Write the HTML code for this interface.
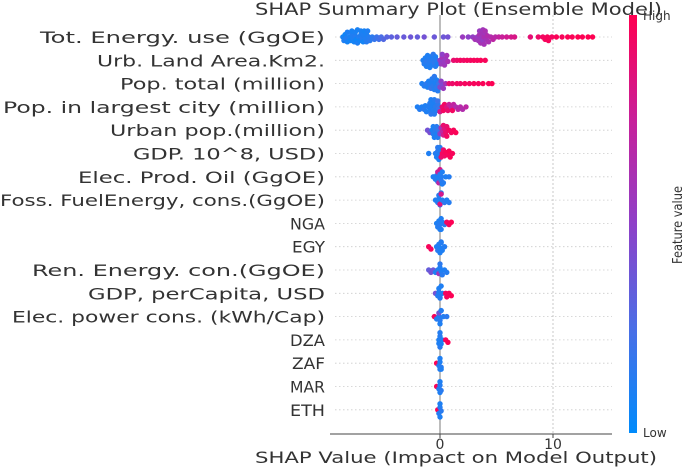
<!DOCTYPE html>
<html><head><meta charset="utf-8"><style>
html,body{margin:0;padding:0;background:#fff;}
svg{display:block;font-family:"DejaVu Sans","Liberation Sans",sans-serif;}
</style></head><body>
<svg id="chart" width="685" height="467" viewBox="0 0 685 467" xmlns="http://www.w3.org/2000/svg">
<defs>
<linearGradient id="cbar" x1="0" y1="1" x2="0" y2="0">
<stop offset="0" stop-color="#008bfb"/><stop offset="0.25" stop-color="#4a6ee6"/>
<stop offset="0.5" stop-color="#8e40c8"/><stop offset="0.75" stop-color="#c8209a"/>
<stop offset="1" stop-color="#ff0051"/>
</linearGradient>
</defs>
<text x="255" y="15" font-size="17" textLength="407" lengthAdjust="spacingAndGlyphs" fill="#333">SHAP Summary Plot (Ensemble Model)</text>
<g id="grid"></g>
<g id="labels"></g>
<g id="dots"></g>
<g id="axis"></g>
<rect x="629" y="15" width="8" height="418" fill="url(#cbar)"/>
<text x="643" y="20" font-size="12" fill="#333">High</text>
<text x="643" y="437" font-size="12" fill="#333">Low</text>
<text transform="translate(682,225) rotate(-90)" text-anchor="middle" font-size="13" textLength="78" lengthAdjust="spacingAndGlyphs" fill="#333">Feature value</text>
<text x="255" y="463" font-size="16" textLength="402" lengthAdjust="spacingAndGlyphs" fill="#333">SHAP Value (Impact on Model Output)</text>
</svg>
<script>
const featureNames = ["Tot. Energy. use (GgOE)","Urb. Land Area.Km2.","Pop. total (million)","Pop. in largest city (million)","Urban pop.(million)","GDP. 10^8, USD)","Elec. Prod. Oil (GgOE)","Foss. FuelEnergy, cons.(GgOE)","NGA","EGY","Ren. Energy. con.(GgOE)","GDP, perCapita, USD","Elec. power cons. (kWh/Cap)","DZA","ZAF","MAR","ETH"];
const labelStartX = [40,97,120,3,110,133,78,0,290,292,32,88,12,290,292,290,290];
const xTicks = [0, 10];
const shap_tot = [-8.6,-8.5,-8.4,-8.3,-8.2,-8.2,-8.0,-7.9,-7.8,-7.8,-7.7,-7.6,-7.5,-7.5,-7.4,-7.3,-7.3,-7.2,-7.1,-7.0,-7.0,-6.9,-6.8,-6.8,-6.7,-6.6,-6.5,-6.5,-6.4,-6.3,-6.2,-6.0,-5.8,-5.6,-5.4,-5.2,-5.0,-4.7,-4.3,-3.8,-3.2,-2.6,-2.0,-1.4,-0.5,0.3,0.7,2.0,2.5,2.9,3.1,3.3,3.4,3.5,3.6,3.7,3.8,3.9,4.0,4.1,4.2,4.3,4.5,4.7,4.9,5.2,5.5,5.9,6.3,6.6,8.0,8.7,9.1,9.3,9.6,9.9,10.3,10.8,11.3,11.7,12.2,12.6,13.1,13.5,3.6,3.8,4.0,3.5,9.5,3.9];
const fv_tot = [0.08,0.1,0.05,0.12,0.07,0.1,0.09,0.06,0.11,0.08,0.1,0.07,0.12,0.09,0.05,0.1,0.08,0.11,0.06,0.1,0.09,0.12,0.07,0.1,0.08,0.11,0.09,0.13,0.1,0.12,0.14,0.15,0.18,0.2,0.22,0.25,0.28,0.3,0.32,0.35,0.36,0.38,0.35,0.4,0.37,0.38,0.4,0.55,0.5,0.52,0.6,0.55,0.58,0.62,0.56,0.6,0.54,0.63,0.58,0.6,0.65,0.62,0.66,0.7,0.68,0.72,0.75,0.78,0.8,0.82,0.88,0.92,0.95,0.96,0.97,0.95,0.98,0.97,0.99,0.98,1,0.99,1,1,0.6,0.58,0.62,0.55,0.97,0.6];
const shap_urb = [-1.5,-1.4,-1.3,-1.2,-1.1,-1.0,-0.9,-0.8,-0.7,-0.6,-0.5,-0.4,-0.3,-0.2,-1.2,-1.0,-0.8,-0.6,-0.4,0.0,0.1,0.2,0.3,0.4,0.5,0.6,0.7,0.2,0.4,1.2,1.5,1.8,2.1,2.4,2.7,3.0,3.3,3.6,4.0];
const fv_urb = [0.1,0.12,0.1,0.15,0.1,0.12,0.1,0.14,0.1,0.12,0.15,0.1,0.12,0.1,0.1,0.12,0.1,0.15,0.12,0.5,0.55,0.6,0.52,0.58,0.55,0.6,0.62,0.5,0.55,0.9,0.92,0.95,0.93,0.96,0.95,0.97,0.96,0.98,0.97];
const shap_pop = [-1.6,-1.4,-1.2,-1.0,-0.9,-0.8,-0.7,-0.6,-0.5,-0.4,-0.3,-0.2,-0.1,-1.1,-0.7,-0.5,-0.3,0.0,0.1,0.2,0.3,0.5,0.8,1.1,1.5,1.8,2.2,2.6,3.0,3.4,3.8,4.3,4.6];
const fv_pop = [0.1,0.12,0.15,0.1,0.12,0.18,0.1,0.14,0.12,0.1,0.15,0.12,0.2,0.1,0.12,0.15,0.1,0.45,0.5,0.45,0.55,0.6,0.9,0.92,0.95,0.93,0.96,0.95,0.97,0.96,0.98,0.97,0.99];
const shap_big = [-2.0,-1.8,-1.6,-1.4,-1.2,-1.0,-0.9,-0.8,-0.7,-0.6,-0.5,-0.4,-0.3,-0.2,-0.1,-1.3,-0.9,-0.6,-0.4,-0.2,-0.8,-0.5,0.0,0.2,0.4,0.6,0.8,1.0,1.2,1.4,1.6,1.8,2.0,2.3,0.3,0.7,1.1];
const fv_big = [0.1,0.12,0.1,0.14,0.1,0.12,0.1,0.15,0.1,0.12,0.14,0.1,0.12,0.15,0.2,0.1,0.12,0.1,0.14,0.2,0.1,0.12,0.8,0.9,0.95,0.85,0.75,0.7,0.72,0.65,0.7,0.68,0.65,0.7,0.95,0.9,0.95];
const shap_urbp = [-1.1,-0.9,-0.7,-0.6,-0.5,-0.4,-0.3,-0.2,-0.1,-0.6,-0.3,0.0,0.1,0.2,0.3,0.4,0.5,0.6,0.8,1.0,1.2,1.4,0.3,0.6];
const fv_urbp = [0.4,0.42,0.1,0.12,0.1,0.15,0.1,0.12,0.2,0.1,0.14,0.5,0.6,0.7,0.8,0.85,0.9,0.9,0.95,0.95,0.97,0.98,0.9,0.95];
const shap_gdp = [-1.0,-0.4,-0.3,-0.2,-0.1,0.0,-0.2,-0.1,0.0,0.1,0.2,0.3,0.5,0.7,0.9,1.1,0.4,0.8];
const fv_gdp = [0.1,0.12,0.1,0.14,0.1,0.12,0.15,0.1,0.12,0.9,0.95,0.92,0.97,0.96,0.98,0.97,0.93,0.99];
const shap_oil = [-0.6,-0.4,-0.3,-0.2,-0.1,0.0,0.1,0.2,0.3,0.5,0.8,-0.2,0.0,0.2,-0.1,0.1];
const fv_oil = [0.1,0.12,0.1,0.14,0.1,0.12,0.15,0.1,0.12,0.1,0.12,0.75,0.8,0.1,0.7,0.12];
const shap_foss = [-0.4,-0.2,-0.1,0.0,0.1,0.2,0.4,0.6,0.8,0.0,0.1,-0.1];
const fv_foss = [0.1,0.12,0.1,0.14,0.1,0.12,0.15,0.1,0.12,0.85,0.8,0.12];
const shap_nga = [-0.3,-0.2,-0.1,0.0,0.1,0.2,0.4,0.6,0.8,1.0,0.0,0.1];
const fv_nga = [0.1,0.12,0.1,0.14,0.1,0.12,0.15,0.95,0.97,0.99,0.12,0.1];
const shap_egy = [-1.0,-0.8,-0.3,-0.1,0.0,0.1,0.2,0.4,-0.2,0.0,0.1];
const fv_egy = [0.97,0.95,0.1,0.12,0.1,0.14,0.1,0.12,0.15,0.1,0.12];
const shap_ren = [-1.0,-0.8,-0.6,-0.4,-0.2,0.0,0.2,0.4,0.6,0.0,-0.1,0.1];
const fv_ren = [0.35,0.4,0.38,0.1,0.12,0.1,0.14,0.1,0.12,0.15,0.6,0.1];
const shap_gpc = [-0.4,-0.2,-0.1,0.0,0.1,0.2,0.5,0.8,1.0,0.6,-0.1,0.0];
const fv_gpc = [0.4,0.12,0.1,0.14,0.1,0.12,0.95,0.97,0.99,0.96,0.1,0.12];
const shap_pow = [-0.5,-0.3,-0.1,0.0,0.1,0.3,0.6,0.0,0.1,-0.1];
const fv_pow = [0.97,0.12,0.1,0.14,0.1,0.12,0.15,0.1,0.12,0.4];
const shap_dza = [-0.1,0.0,0.1,0.0,0.2,0.5,0.7,0.0,-0.1];
const fv_dza = [0.1,0.12,0.1,0.14,0.1,0.97,0.99,0.12,0.1];
const shap_zaf = [-0.3,-0.1,0.0,0.1,0.0,0.0,0.1];
const fv_zaf = [0.98,0.12,0.1,0.14,0.1,0.12,0.1];
const shap_mar = [-0.3,0.0,0.0,0.1,0.0,-0.1];
const fv_mar = [0.98,0.12,0.1,0.14,0.1,0.12];
const shap_eth = [-0.2,0.0,0.0,0.1,0.0,-0.1];
const fv_eth = [0.98,0.12,0.1,0.14,0.1,0.12];

const rows = [[shap_tot,fv_tot],[shap_urb,fv_urb],[shap_pop,fv_pop],[shap_big,fv_big],[shap_urbp,fv_urbp],[shap_gdp,fv_gdp],[shap_oil,fv_oil],[shap_foss,fv_foss],[shap_nga,fv_nga],[shap_egy,fv_egy],[shap_ren,fv_ren],[shap_gpc,fv_gpc],[shap_pow,fv_pow],[shap_dza,fv_dza],[shap_zaf,fv_zaf],[shap_mar,fv_mar],[shap_eth,fv_eth]];

const NS = "http://www.w3.org/2000/svg";
function xScale(v){ return 440 + v * 11.3; }
function yRow(i){ return 37 + i * 23.3; }
function lerp(a,b,t){ return a + (b-a)*t; }
function color(t){
  const stops = [[0,0,139,251],[0.25,74,110,230],[0.5,142,64,200],[0.75,200,32,154],[1,255,0,81]];
  for (let k=0;k<stops.length-1;k++){
    const a=stops[k], b=stops[k+1];
    if (t<=b[0]){ const u=(t-a[0])/(b[0]-a[0]);
      return "rgb("+Math.round(lerp(a[1],b[1],u))+","+Math.round(lerp(a[2],b[2],u))+","+Math.round(lerp(a[3],b[3],u))+")"; }
  }
  return "rgb(255,0,81)";
}
const grid = document.getElementById("grid");
const labels = document.getElementById("labels");
const dots = document.getElementById("dots");
const axis = document.getElementById("axis");

const zl = document.createElementNS(NS,"line");


zl.setAttribute("x1",xScale(0)); zl.setAttribute("x2",xScale(0)); zl.setAttribute("y1",15); zl.setAttribute("y2",434);
zl.setAttribute("stroke","#999"); zl.setAttribute("stroke-width","1.3");
grid.appendChild(zl);
const tl = document.createElementNS(NS,"line");


tl.setAttribute("x1",xScale(10)); tl.setAttribute("x2",xScale(10)); tl.setAttribute("y1",15); tl.setAttribute("y2",434);
tl.setAttribute("stroke","#bbb"); tl.setAttribute("stroke-width","0.8"); tl.setAttribute("stroke-dasharray","2,2");
grid.appendChild(tl);

featureNames.forEach((name,i)=>{
  const y = yRow(i);
  const gl = document.createElementNS(NS,"line");
  
  
  gl.setAttribute("x1",335); gl.setAttribute("x2",612); gl.setAttribute("y1",y); gl.setAttribute("y2",y);
  gl.setAttribute("stroke","#ccc"); gl.setAttribute("stroke-width","0.8"); gl.setAttribute("stroke-dasharray","1.5,2.5");
  grid.appendChild(gl);
  const t = document.createElementNS(NS,"text");
  
  
  t.setAttribute("x", labelStartX[i]); t.setAttribute("y", y+6);
  t.setAttribute("textLength", 325 - labelStartX[i]);
  t.setAttribute("lengthAdjust","spacingAndGlyphs");
  t.setAttribute("font-size","16"); t.setAttribute("fill","#333");
  t.textContent = name;
  labels.appendChild(t);

  const sv = rows[i][0], fv = rows[i][1];
  const idx = sv.map((v,k)=>k).sort((a,b)=>sv[a]-sv[b]);
  const placed = [];
  const r = 2.7, minD = 3.2, maxOff = 7.5;
  idx.forEach(k=>{
    const px = xScale(sv[k]);
    let off = 0, found = false;
    for (let s=0; s<40; s++){
      off = (s%2===1 ? 1 : -1) * Math.ceil(s/2) * 1.2;
      if (Math.abs(off) > maxOff) break;
      let ok = true;
      for (const p of placed){
        const dx=p[0]-px, dy=p[1]-off;
        if (dx*dx+dy*dy < minD*minD){ ok=false; break; }
      }
      if (ok){ found = true; break; }
    }
    if (!found) off = ((placed.length % 7) - 3) * 2;
    placed.push([px,off]);
    const c = document.createElementNS(NS,"circle");
    
    
    c.setAttribute("cx",px); c.setAttribute("cy",y+off); c.setAttribute("r",r);
    c.setAttribute("fill",color(fv[k]));
    dots.appendChild(c);
  });
});

const ax = document.createElementNS(NS,"line");


ax.setAttribute("x1",330); ax.setAttribute("x2",612); ax.setAttribute("y1",434); ax.setAttribute("y2",434);
ax.setAttribute("stroke","#444"); ax.setAttribute("stroke-width","1");
axis.appendChild(ax);
xTicks.forEach(v=>{
  const tk = document.createElementNS(NS,"line");
  
  
  tk.setAttribute("x1",xScale(v)); tk.setAttribute("x2",xScale(v)); tk.setAttribute("y1",434); tk.setAttribute("y2",438);
  tk.setAttribute("stroke","#444");
  axis.appendChild(tk);
  const tt = document.createElementNS(NS,"text");
  
  
  tt.setAttribute("x",xScale(v)); tt.setAttribute("y",449); tt.setAttribute("text-anchor","middle");
  tt.setAttribute("font-size","14"); tt.setAttribute("fill","#333");
  tt.textContent = String(v);
  axis.appendChild(tt);
});
</script>
</body></html>
